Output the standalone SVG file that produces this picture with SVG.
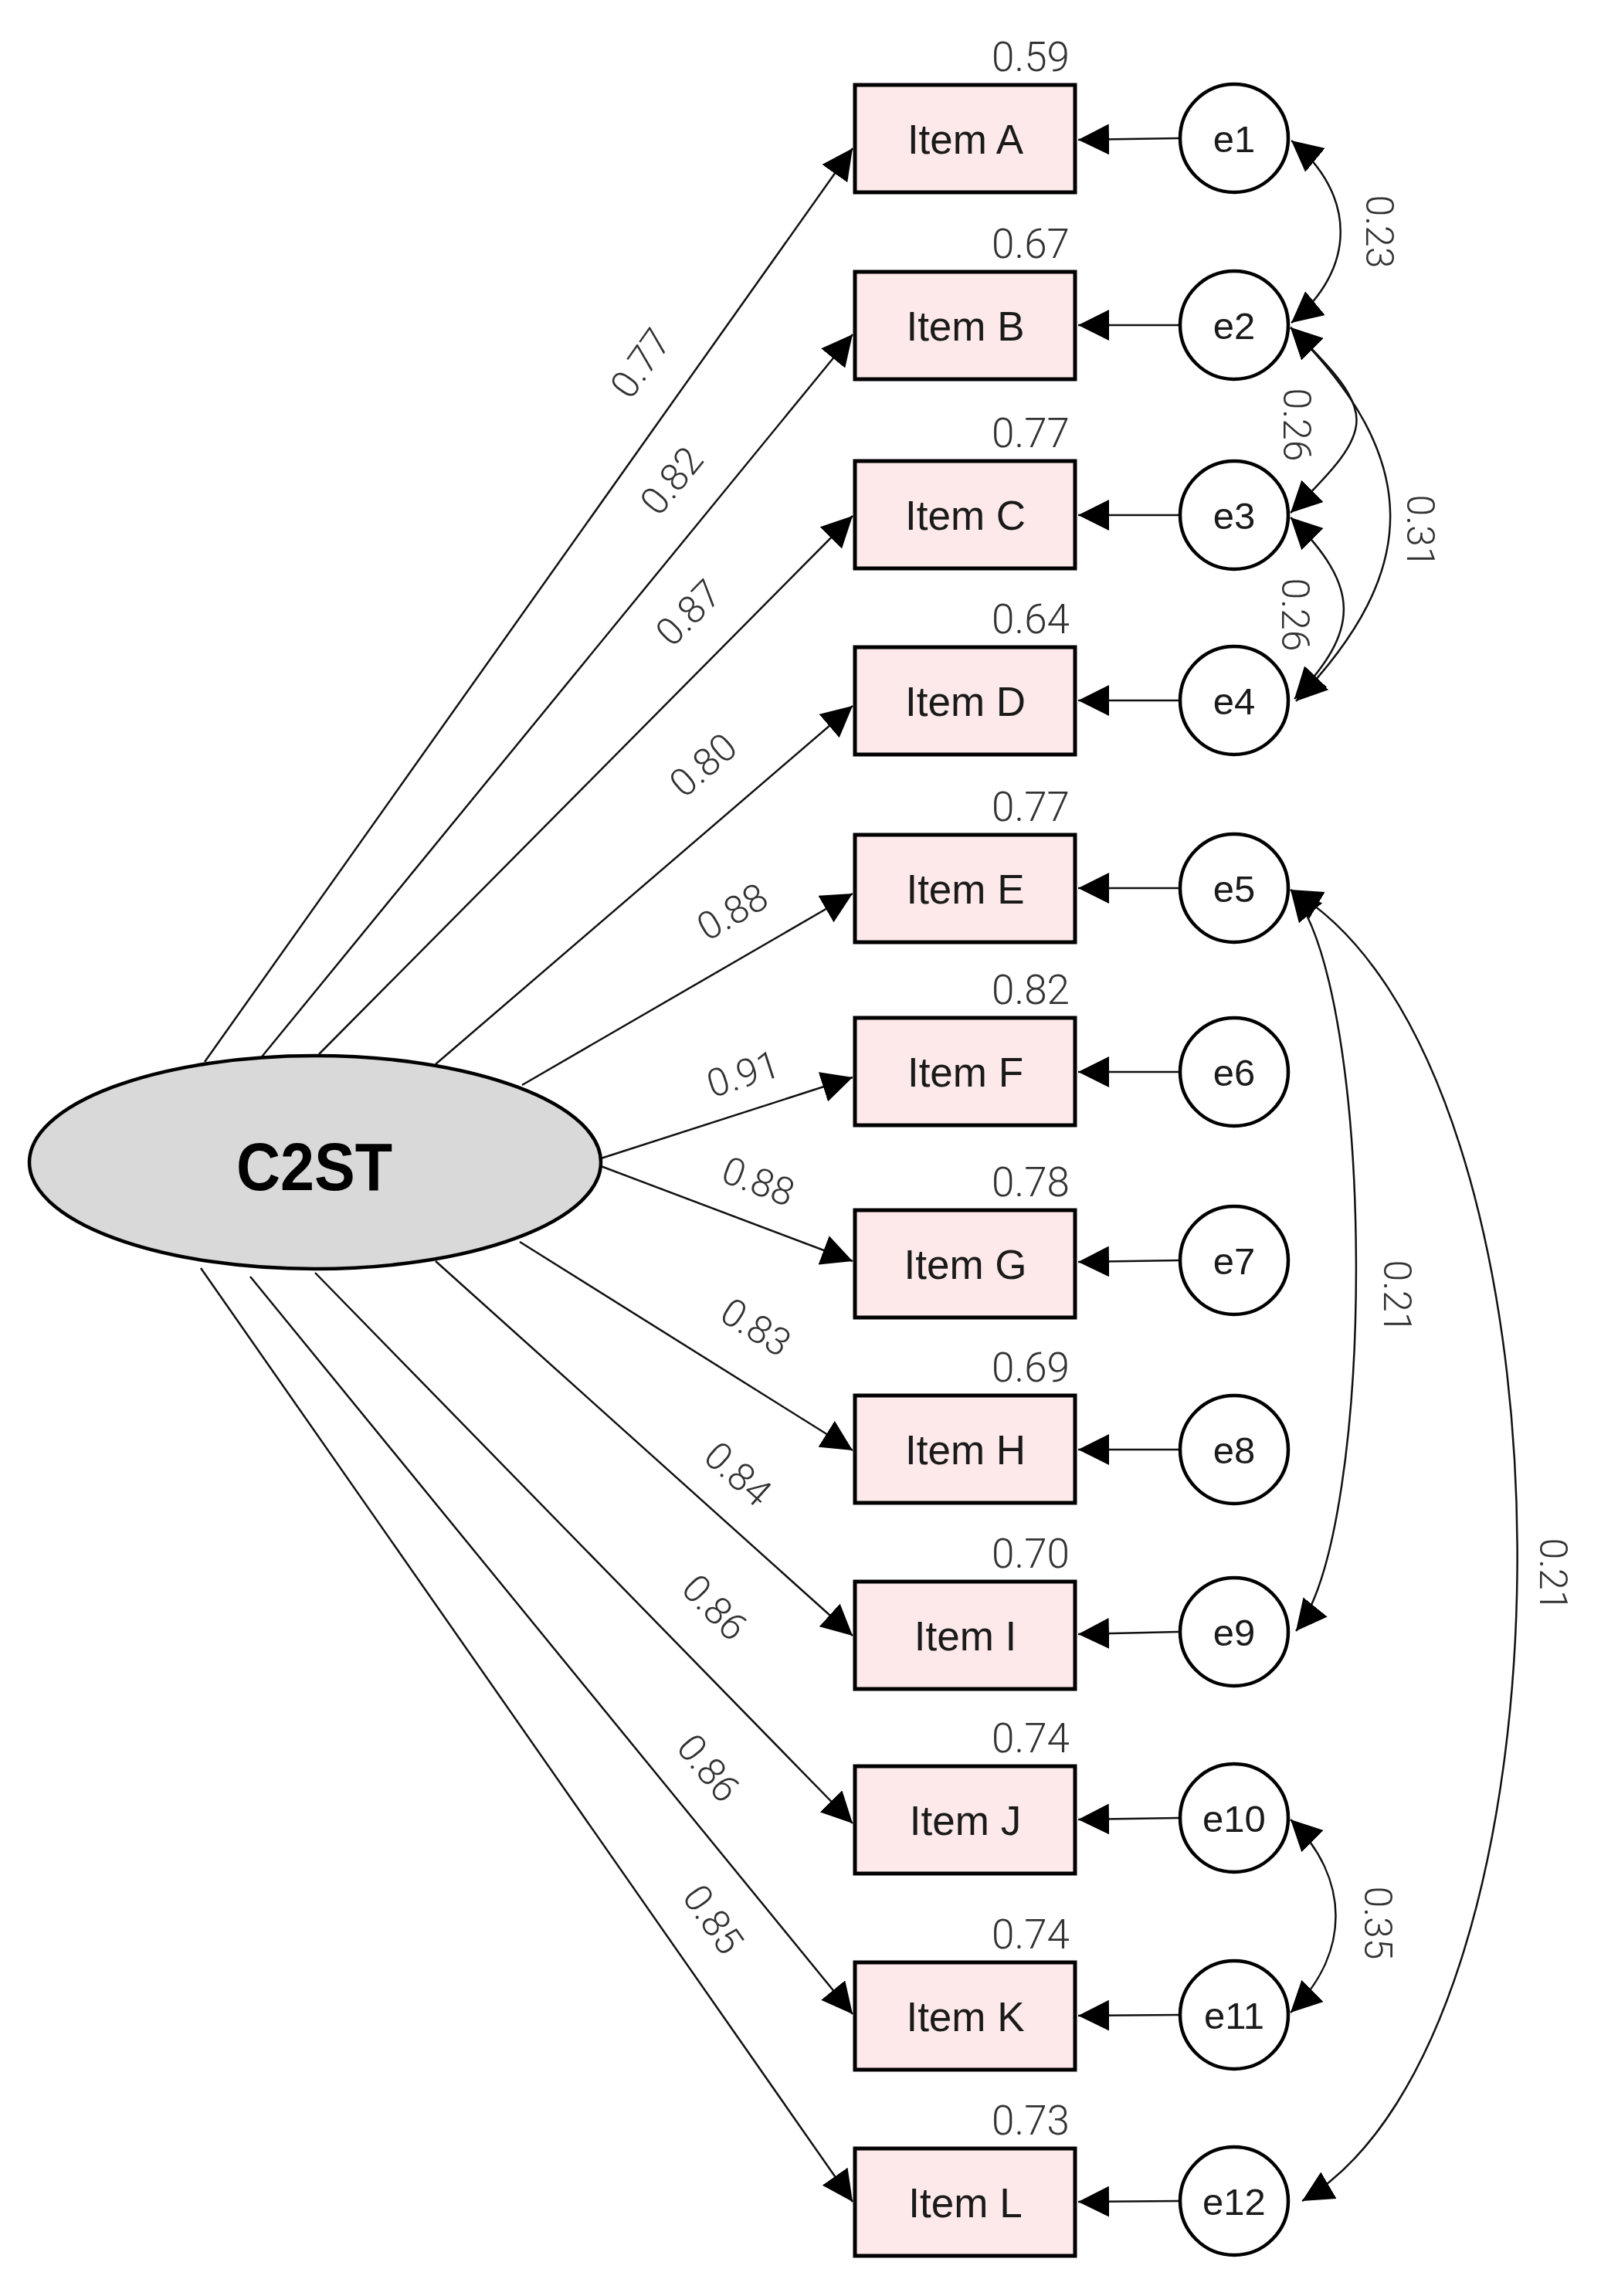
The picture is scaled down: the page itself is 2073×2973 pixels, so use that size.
<svg xmlns="http://www.w3.org/2000/svg" width="2073" height="2973" viewBox="0 0 2073 2973">
<style>
.box{fill:#fde9e9;stroke:#000;stroke-width:5}
.err{fill:#fff;stroke:#000;stroke-width:4.5}
.lat{fill:#d9d9d9;stroke:#000;stroke-width:4.5}
.it{font-family:"Liberation Sans",Arial,sans-serif;font-size:53px;fill:#1a1a1a;text-anchor:middle}
.et{font-family:"Liberation Sans",Arial,sans-serif;font-size:49px;fill:#1a1a1a;text-anchor:middle}
.var{font-family:Roboto,"Liberation Sans",sans-serif;font-weight:300;font-size:53px;fill:#333;text-anchor:end}
.lb{font-family:Roboto,"Liberation Sans",sans-serif;font-weight:300;font-size:50px;fill:#333;text-anchor:middle}
.ld{fill:none;stroke:#111;stroke-width:2.5;marker-end:url(#arr)}
.cv{fill:none;stroke:#111;stroke-width:2.5;marker-start:url(#arr2);marker-end:url(#arr2)}
</style>
<defs>
<marker id="arr" markerUnits="userSpaceOnUse" viewBox="0 0 40 40" markerWidth="40" markerHeight="40" refX="40" refY="20" orient="auto"><path d="M0,0 L40,20 L0,40 z" fill="#000"/></marker>
<marker id="arr2" markerUnits="userSpaceOnUse" viewBox="0 0 40 40" markerWidth="40" markerHeight="40" refX="40" refY="20" orient="auto-start-reverse"><path d="M0,0 L40,20 L0,40 z" fill="#000"/></marker>
</defs>
<rect width="2073" height="2973" fill="#fff"/>

<g id="connectors">
  <!-- loadings -->
  <line class="ld" x1="265" y1="1375" x2="1104" y2="192"/>
  <line class="ld" x1="327" y1="1383" x2="1104" y2="433"/>
  <line class="ld" x1="413" y1="1365" x2="1104" y2="668"/>
  <line class="ld" x1="564" y1="1378" x2="1104" y2="914"/>
  <line class="ld" x1="676" y1="1405" x2="1104" y2="1157"/>
  <line class="ld" x1="778" y1="1500" x2="1104" y2="1395"/>
  <line class="ld" x1="778" y1="1510" x2="1104" y2="1633"/>
  <line class="ld" x1="673" y1="1608" x2="1104" y2="1878"/>
  <line class="ld" x1="564" y1="1633" x2="1104" y2="2118"/>
  <line class="ld" x1="408" y1="1648" x2="1104" y2="2361"/>
  <line class="ld" x1="324" y1="1653" x2="1104" y2="2608"/>
  <line class="ld" x1="260" y1="1642" x2="1104" y2="2851"/>
  <!-- error to item -->
  <line class="ld" x1="1526" y1="179" x2="1396" y2="181"/>
  <line class="ld" x1="1526" y1="421" x2="1396" y2="421"/>
  <line class="ld" x1="1526" y1="667" x2="1396" y2="667"/>
  <line class="ld" x1="1526" y1="907" x2="1396" y2="907"/>
  <line class="ld" x1="1526" y1="1150" x2="1396" y2="1150"/>
  <line class="ld" x1="1526" y1="1388" x2="1396" y2="1388"/>
  <line class="ld" x1="1526" y1="1632" x2="1396" y2="1634"/>
  <line class="ld" x1="1526" y1="1877" x2="1396" y2="1877"/>
  <line class="ld" x1="1526" y1="2113" x2="1396" y2="2116"/>
  <line class="ld" x1="1526" y1="2354" x2="1396" y2="2356"/>
  <line class="ld" x1="1526" y1="2609" x2="1396" y2="2610"/>
  <line class="ld" x1="1526" y1="2850" x2="1396" y2="2851"/>
  <!-- covariances -->
  <path class="cv" d="M1672,182 C1757,252 1757,348 1672,418"/>
  <path class="cv" d="M1671,424 C1785,537 1785,551 1671,664"/>
  <path class="cv" d="M1671,670 C1762,760 1762,815 1676,905"/>
  <path class="cv" d="M1671,424 C1842,594 1842,738 1678,908"/>
  <path class="cv" d="M1671,1152 C1783,1282 1783,1982 1678,2112"/>
  <path class="cv" d="M1671,1152 C2060,1380 2060,2630 1686,2850"/>
  <path class="cv" d="M1671,2356 C1749,2433 1749,2529 1671,2606"/>
</g>

<g id="labels">
  <text class="lb" transform="translate(829,470) rotate(-54.7)" y="18">0.77</text>
  <text class="lb" transform="translate(869,622) rotate(-50.8)" y="18">0.82</text>
  <text class="lb" transform="translate(891,793) rotate(-45.3)" y="18">0.87</text>
  <text class="lb" transform="translate(910,990) rotate(-40.7)" y="18">0.80</text>
  <text class="lb" transform="translate(948,1180) rotate(-30.1)" y="18">0.88</text>
  <text class="lb" transform="translate(962,1390) rotate(-18)" y="18">0.91</text>
  <text class="lb" transform="translate(982,1529) rotate(20.8)" y="18">0.88</text>
  <text class="lb" transform="translate(979,1718) rotate(32.1)" y="18">0.83</text>
  <text class="lb" transform="translate(956,1908) rotate(42)" y="18">0.84</text>
  <text class="lb" transform="translate(926,2081) rotate(45.7)" y="18">0.86</text>
  <text class="lb" transform="translate(918,2289) rotate(50.8)" y="18">0.86</text>
  <text class="lb" transform="translate(924,2485) rotate(55.1)" y="18">0.85</text>
  <text class="lb" transform="translate(1787,300) rotate(90)" y="18">0.23</text>
  <text class="lb" transform="translate(1680,550) rotate(90)" y="18">0.26</text>
  <text class="lb" transform="translate(1840,688) rotate(90)" y="18">0.31</text>
  <text class="lb" transform="translate(1678,796) rotate(90)" y="18">0.26</text>
  <text class="lb" transform="translate(1810,1679) rotate(90)" y="18">0.21</text>
  <text class="lb" transform="translate(2012,2039) rotate(90)" y="18">0.21</text>
  <text class="lb" transform="translate(1785,2490) rotate(90)" y="18">0.35</text>
</g>

<g id="C2ST">
  <ellipse class="lat" cx="408" cy="1505" rx="370" ry="138"/>
  <text x="407" y="1541" font-family="Liberation Sans,Arial,sans-serif" font-weight="bold" font-size="88" text-anchor="middle" textLength="202" lengthAdjust="spacingAndGlyphs" fill="#000">C2ST</text>
</g>

<g id="itemA"><rect class="box" x="1107" y="110" width="285" height="139"/><text class="it" x="1250" y="199">Item A</text><text class="var" x="1385" y="92">0.59</text></g>
<g id="itemB"><rect class="box" x="1107" y="352" width="285" height="139"/><text class="it" x="1250" y="441">Item B</text><text class="var" x="1385" y="334">0.67</text></g>
<g id="itemC"><rect class="box" x="1107" y="597" width="285" height="139"/><text class="it" x="1250" y="686">Item C</text><text class="var" x="1385" y="579">0.77</text></g>
<g id="itemD"><rect class="box" x="1107" y="838" width="285" height="139"/><text class="it" x="1250" y="927">Item D</text><text class="var" x="1385" y="820">0.64</text></g>
<g id="itemE"><rect class="box" x="1107" y="1081" width="285" height="139"/><text class="it" x="1250" y="1170">Item E</text><text class="var" x="1385" y="1063">0.77</text></g>
<g id="itemF"><rect class="box" x="1107" y="1318" width="285" height="139"/><text class="it" x="1250" y="1407">Item F</text><text class="var" x="1385" y="1300">0.82</text></g>
<g id="itemG"><rect class="box" x="1107" y="1567" width="285" height="139"/><text class="it" x="1250" y="1656">Item G</text><text class="var" x="1385" y="1549">0.78</text></g>
<g id="itemH"><rect class="box" x="1107" y="1807" width="285" height="139"/><text class="it" x="1250" y="1896">Item H</text><text class="var" x="1385" y="1789">0.69</text></g>
<g id="itemI"><rect class="box" x="1107" y="2048" width="285" height="139"/><text class="it" x="1250" y="2137">Item I</text><text class="var" x="1385" y="2030">0.70</text></g>
<g id="itemJ"><rect class="box" x="1107" y="2287" width="285" height="139"/><text class="it" x="1250" y="2376">Item J</text><text class="var" x="1385" y="2269">0.74</text></g>
<g id="itemK"><rect class="box" x="1107" y="2541" width="285" height="139"/><text class="it" x="1250" y="2630">Item K</text><text class="var" x="1385" y="2523">0.74</text></g>
<g id="itemL"><rect class="box" x="1107" y="2782" width="285" height="139"/><text class="it" x="1250" y="2871">Item L</text><text class="var" x="1385" y="2764">0.73</text></g>

<g id="e1"><circle class="err" cx="1598" cy="179" r="70"/><text class="et" x="1598" y="197">e1</text></g>
<g id="e2"><circle class="err" cx="1598" cy="421" r="70"/><text class="et" x="1598" y="439">e2</text></g>
<g id="e3"><circle class="err" cx="1598" cy="667" r="70"/><text class="et" x="1598" y="685">e3</text></g>
<g id="e4"><circle class="err" cx="1598" cy="907" r="70"/><text class="et" x="1598" y="925">e4</text></g>
<g id="e5"><circle class="err" cx="1598" cy="1150" r="70"/><text class="et" x="1598" y="1168">e5</text></g>
<g id="e6"><circle class="err" cx="1598" cy="1388" r="70"/><text class="et" x="1598" y="1406">e6</text></g>
<g id="e7"><circle class="err" cx="1598" cy="1632" r="70"/><text class="et" x="1598" y="1650">e7</text></g>
<g id="e8"><circle class="err" cx="1598" cy="1877" r="70"/><text class="et" x="1598" y="1895">e8</text></g>
<g id="e9"><circle class="err" cx="1598" cy="2113" r="70"/><text class="et" x="1598" y="2131">e9</text></g>
<g id="e10"><circle class="err" cx="1598" cy="2354" r="70"/><text class="et" x="1598" y="2372">e10</text></g>
<g id="e11"><circle class="err" cx="1598" cy="2609" r="70"/><text class="et" x="1598" y="2627">e11</text></g>
<g id="e12"><circle class="err" cx="1598" cy="2850" r="70"/><text class="et" x="1598" y="2868">e12</text></g>
</svg>
